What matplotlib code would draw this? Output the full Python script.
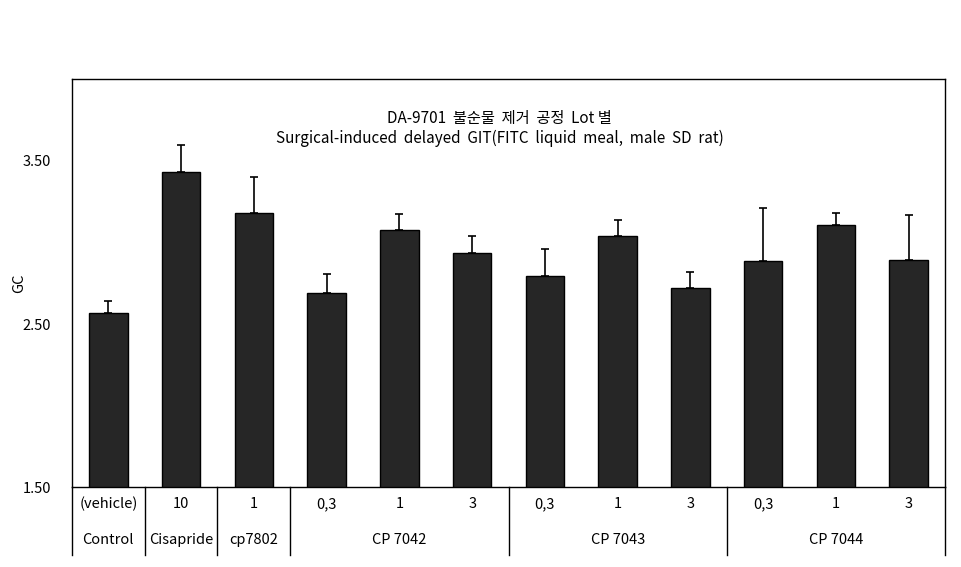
import matplotlib.pyplot as plt
from matplotlib.transforms import blended_transform_factory

plt.rcParams['font.family'] = ['Noto Sans CJK KR', 'DejaVu Sans']

doses = ["(vehicle)", "10", "1", "0.3", "1", "3", "0.3", "1", "3", "0.3", "1", "3"]
dose_labels = ["(vehicle)", "10", "1", "0,3", "1", "3", "0,3", "1", "3", "0,3", "1", "3"]
groups = ["Control", "Cisapride", "cp7802", "CP 7042", "CP 7043", "CP 7044"]
group_sizes = [1, 1, 1, 3, 3, 3]
gc_mean = [2.567, 3.433, 3.181, 2.690, 3.077, 2.936, 2.794, 3.040, 2.721, 2.887, 3.107, 2.893]
gc_err = [0.074, 0.165, 0.221, 0.117, 0.098, 0.104, 0.166, 0.098, 0.098, 0.325, 0.074, 0.276]

def main():
    fig = plt.figure(figsize=(9.61, 5.67), dpi=100)
    ax = fig.add_axes([0.0749, 0.1406, 0.9085, 0.7195])
    x = list(range(len(gc_mean)))
    ax.bar(x, gc_mean, width=0.53, color='#262626', edgecolor='black', linewidth=1)
    ax.errorbar(x, gc_mean, yerr=[[0] * len(gc_err), gc_err], fmt='none',
                ecolor='black', elinewidth=1.2, capsize=3, capthick=1.2)
    ax.set_xlim(-0.5, len(x) - 0.5)
    ax.set_ylim(1.5, 4.0)
    ax.set_yticks([1.5, 2.5, 3.5])
    ax.set_yticklabels(["1.50", "2.50", "3.50"], fontsize=10.5)
    ax.tick_params(axis='y', length=0, pad=15)
    ax.set_xticks([])
    for s in ax.spines.values():
        s.set_linewidth(1)
    ax.set_ylabel("GC", fontsize=10.5)
    ax.yaxis.set_label_coords(-0.053, 0.5)

    ax.text(0.49, 0.905, "DA-9701  불순물  제거  공정  Lot 별", transform=ax.transAxes,
            ha='center', va='center', fontsize=11)
    ax.text(0.49, 0.855, "Surgical-induced  delayed  GIT(FITC  liquid  meal,  male  SD  rat)",
            transform=ax.transAxes, ha='center', va='center', fontsize=11)

    # category table below the axis
    tr = blended_transform_factory(ax.transData, ax.transAxes)
    for i, lab in enumerate(dose_labels):
        ax.text(i, -0.051, lab, transform=tr, ha='center', va='baseline', fontsize=10.5)
    start = -0.5
    ax.plot([start, start], [0, -0.167], transform=tr, color='black', lw=1, clip_on=False)
    for g, n in zip(groups, group_sizes):
        end = start + n
        ax.text((start + end) / 2, -0.139, g, transform=tr, ha='center', va='baseline',
                fontsize=10.5)
        ax.plot([end, end], [0, -0.167], transform=tr, color='black', lw=1, clip_on=False)
        start = end

    fig.savefig("out.png", dpi=100)

if __name__ == "__main__":
    main()
